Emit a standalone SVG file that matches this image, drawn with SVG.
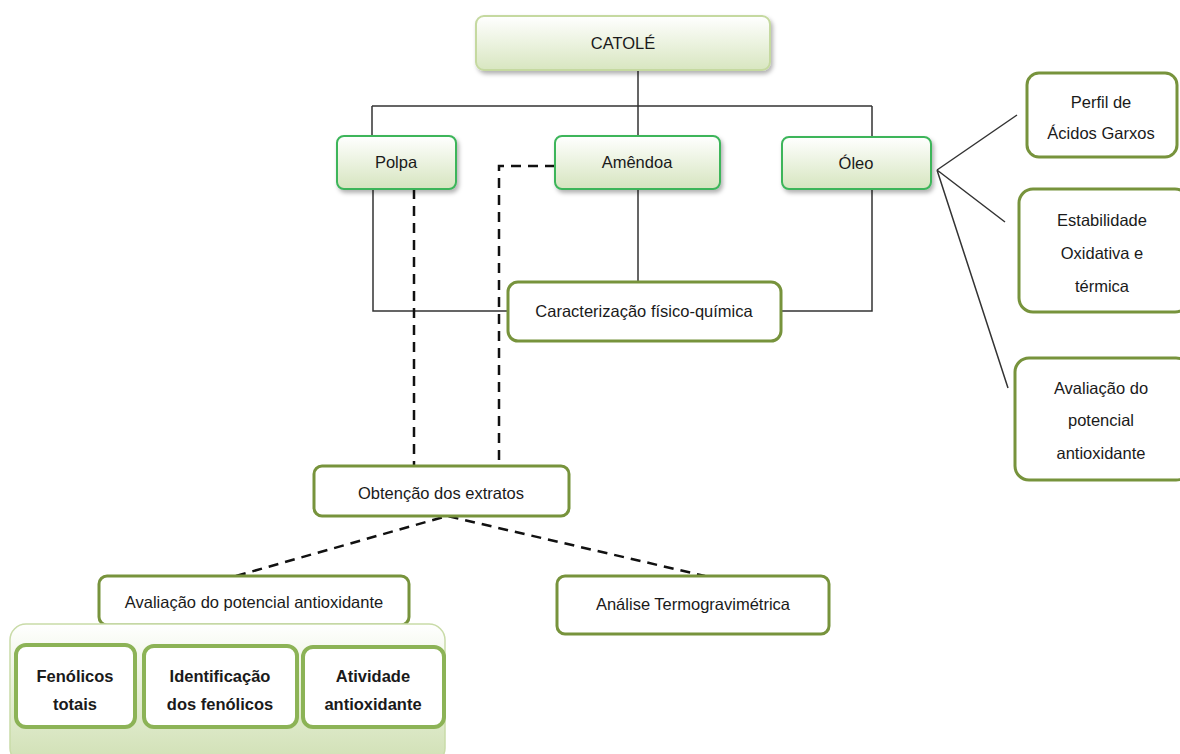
<svg xmlns="http://www.w3.org/2000/svg" width="1180" height="754" viewBox="0 0 1180 754">
<defs>
<linearGradient id="gTop" x1="0" y1="0" x2="0" y2="1"><stop offset="0" stop-color="#ffffff"/><stop offset="1" stop-color="#d8e6c0"/></linearGradient>
<linearGradient id="gMid" x1="0" y1="0" x2="0" y2="1"><stop offset="0" stop-color="#ffffff"/><stop offset="1" stop-color="#d6e5bf"/></linearGradient>
<linearGradient id="gGrp" x1="0" y1="0" x2="0" y2="1"><stop offset="0" stop-color="#ffffff"/><stop offset="0.5" stop-color="#e6efd6"/><stop offset="1" stop-color="#d0e0b4"/></linearGradient>
<filter id="sh" x="-10%" y="-20%" width="125%" height="150%"><feDropShadow dx="2" dy="3" stdDeviation="2" flood-color="#000" flood-opacity="0.3"/></filter>
</defs>
<style>
text{font-family:"Liberation Sans",Arial,sans-serif;font-size:16.5px;fill:#1a1a1a;text-anchor:middle}
.top{fill:url(#gTop);stroke:#c5d9a0;stroke-width:2;filter:url(#sh)}
.mid{fill:url(#gMid);stroke:#3cb55a;stroke-width:2;filter:url(#sh)}
.box{fill:#ffffff;stroke:#77933c;stroke-width:3}
.grp{fill:url(#gGrp);stroke:#c9dba8;stroke-width:1.5}
.inner{fill:#ffffff;stroke:#8cb356;stroke-width:4}
.b{font-weight:bold;font-size:16.5px}
.ln{fill:none;stroke:#333;stroke-width:1.5}
.ds{fill:none;stroke:#111;stroke-width:2.5;stroke-dasharray:10 7}
</style>
<g id="connectors">
<path class="ln" d="M638 70V106M372 106H872M372 106V137M638 106V137M872 106V137"/>
<path class="ln" d="M373 189V311H508M872 189V311H781M638 189V282"/>
<path class="ln" d="M937 170L1017 115M937 170L1005 222M937 170L1008 388"/>
<path class="ds" d="M414 189V466"/>
<path class="ds" d="M555 166H499V466"/>
<path class="ds" d="M236 576L447 516L705 576"/>
</g>
<g id="catole"><rect class="top" x="476" y="16" width="294" height="54" rx="8"/><text x="623" y="49">CATOLÉ</text></g>
<g id="polpa"><rect class="mid" x="337" y="136" width="119" height="53" rx="7"/><text x="396" y="168">Polpa</text></g>
<g id="amendoa"><rect class="mid" x="555" y="136" width="165" height="53" rx="7"/><text x="637" y="168">Amêndoa</text></g>
<g id="oleo"><rect class="mid" x="782" y="137" width="149" height="52" rx="7"/><text x="856" y="169">Óleo</text></g>
<g id="caract"><rect class="box" x="508" y="282" width="273" height="59" rx="10"/><text x="644" y="317">Caracterização físico-química</text></g>
<g id="perfil"><rect class="box" x="1027" y="73" width="150" height="84" rx="12"/><text x="1101" y="108">Perfil de</text><text x="1101" y="139">Ácidos Garxos</text></g>
<g id="estab"><rect class="box" x="1019" y="189" width="170" height="123" rx="14"/><text x="1102" y="226">Estabilidade</text><text x="1102" y="259">Oxidativa e</text><text x="1102" y="292">térmica</text></g>
<g id="aval-oleo"><rect class="box" x="1015" y="358" width="175" height="122" rx="14"/><text x="1101" y="394">Avaliação do</text><text x="1101" y="426">potencial</text><text x="1101" y="459">antioxidante</text></g>
<g id="obtencao"><rect class="box" x="314" y="466" width="255" height="50" rx="8"/><text x="441" y="499">Obtenção dos extratos</text></g>
<g id="aval"><rect class="box" x="99" y="576" width="310" height="49" rx="8"/><text x="254" y="608">Avaliação do potencial  antioxidante</text></g>
<g id="analise"><rect class="box" x="557" y="576" width="272" height="58" rx="8"/><text x="693" y="610">Análise Termogravimétrica</text></g>
<g id="grupo"><rect class="grp" x="10" y="624" width="435" height="140" rx="16"/></g>
<g id="fenolicos"><rect class="inner" x="16" y="645" width="119" height="82" rx="10"/><text class="b" x="75" y="682">Fenólicos</text><text class="b" x="75" y="710">totais</text></g>
<g id="identificacao"><rect class="inner" x="144" y="646" width="153" height="81" rx="10"/><text class="b" x="220" y="682">Identificação</text><text class="b" x="220" y="710">dos fenólicos</text></g>
<g id="atividade"><rect class="inner" x="303" y="647" width="141" height="80" rx="10"/><text class="b" x="373" y="682">Atividade</text><text class="b" x="373" y="710">antioxidante</text></g>
</svg>
